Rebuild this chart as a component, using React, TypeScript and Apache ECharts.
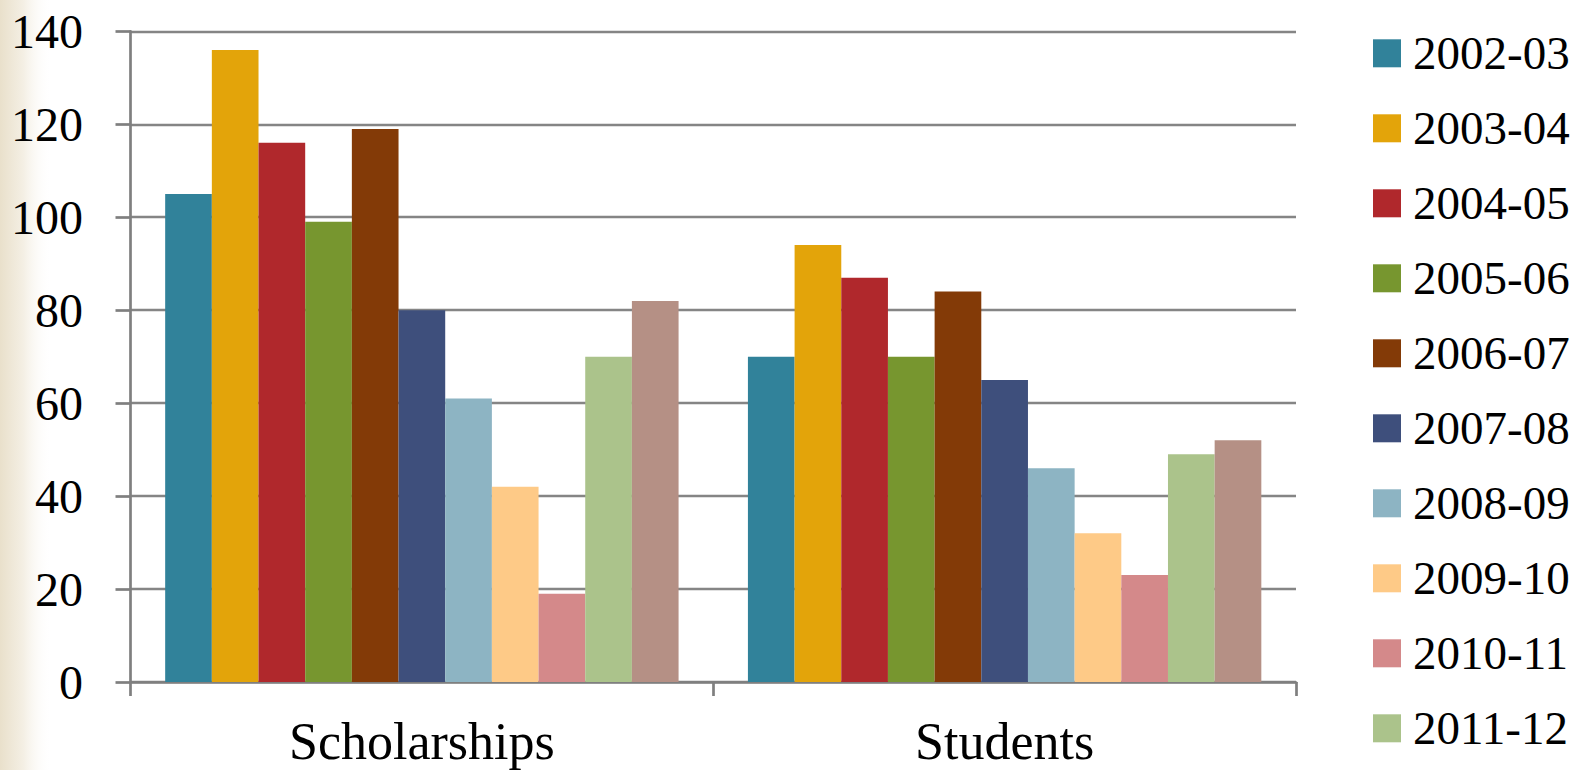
import React, { useEffect, useRef } from "react";
import * as echarts from "echarts";

const categories = ["Scholarships", "Students"];
const seriesNames = [
  "2002-03", "2003-04", "2004-05", "2005-06", "2006-07", "2007-08",
  "2008-09", "2009-10", "2010-11", "2011-12", "2012-13",
];
const scholarships = [105, 136, 116, 99, 119, 80, 61, 42, 19, 70, 82];
const students = [70, 94, 87, 70, 84, 65, 46, 32, 23, 49, 52];
const colors = [
  "#31829A", "#E3A40A", "#B0282C", "#77962F", "#833A07", "#3E4F7C",
  "#8DB4C3", "#FECA87", "#D4898A", "#ABC38B", "#B59085",
];
const yTicks = [0, 20, 40, 60, 80, 100, 120, 140];

const FONT = "'Liberation Serif', 'Times New Roman', serif";

export default function App() {
  const ref = useRef<HTMLDivElement>(null);
  useEffect(() => {
    if (!ref.current) return;
    const chart = echarts.init(ref.current, undefined, { renderer: "svg" });
    chart.setOption({
      animation: false,
      backgroundColor: "#ffffff",
      graphic: [
        {
          type: "rect",
          shape: { x: 0, y: 0, width: 52, height: 770 },
          style: {
            fill: new echarts.graphic.LinearGradient(0, 0, 1, 0, [
              { offset: 0, color: "#E9E0CB" },
              { offset: 0.45, color: "#F4EFE4" },
              { offset: 1, color: "rgba(255,255,255,0)" },
            ]),
          },
          z: -10,
        },
      ],
      grid: { left: 130.5, right: 285, top: 31.3, bottom: 88, containLabel: false },
      legend: {
        orient: "vertical",
        left: 1373,
        top: 26.8,
        padding: 0,
        itemWidth: 28,
        itemHeight: 28,
        itemGap: 22,
        icon: "rect",
        data: seriesNames.slice(0, 10),
        textStyle: {
          fontFamily: FONT,
          fontSize: 47,
          color: "#000",
          lineHeight: 47,
          padding: [0, 0, 6, 7],
        },
        selectedMode: false,
      },
      xAxis: {
        type: "category",
        data: categories,
        axisLine: { lineStyle: { color: "#7F7F7F", width: 2.7 } },
        axisTick: { show: true, length: 14, lineStyle: { color: "#7F7F7F", width: 2.7 } },
        axisLabel: { fontFamily: FONT, fontSize: 52, color: "#000", margin: 33 },
      },
      yAxis: {
        type: "value",
        min: 0,
        max: 140,
        interval: 20,
        axisLine: { show: true, lineStyle: { color: "#7F7F7F", width: 2.7 } },
        axisTick: { show: true, length: 15, lineStyle: { color: "#7F7F7F", width: 2.7 } },
        splitLine: { show: true, lineStyle: { color: "#858585", width: 2.4 } },
        axisLabel: {
          fontFamily: FONT,
          fontSize: 48,
          color: "#000",
          margin: 47.5,
          formatter: (v: number) => (yTicks.includes(v) ? String(v) : ""),
        },
      },
      series: seriesNames.map((name, i) => ({
        name,
        type: "bar",
        data: [scholarships[i], students[i]],
        itemStyle: { color: colors[i] },
        barGap: "0%",
        barCategoryGap: "11.9%",
      })),
    });
    return () => chart.dispose();
  }, []);
  return (
    <div
      ref={ref}
      style={{ position: "fixed", left: 0, top: 0, width: 1581, height: 770 }}
    />
  );
}
